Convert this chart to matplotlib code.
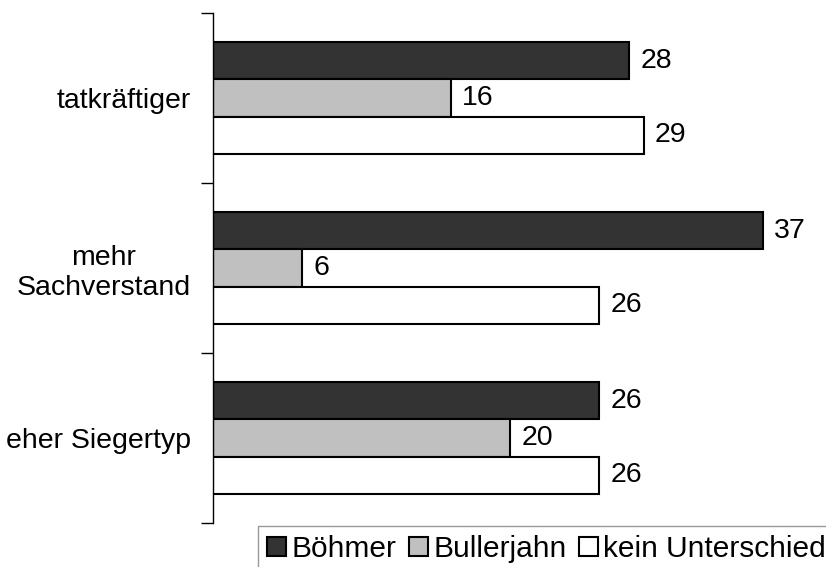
import numpy as np
import matplotlib.pyplot as plt

# data
categories = ["tatkräftiger", "mehr\nSachverstand", "eher Siegertyp"]
series_names = ["Böhmer", "Bullerjahn", "kein Unterschied"]
boehmer = [28, 37, 26]
bullerjahn = [16, 6, 20]
kein_unterschied = [29, 26, 26]

colors = ["#333333", "#c0c0c0", "#ffffff"]

plt.rcParams["font.family"] = ["Liberation Sans", "DejaVu Sans"]
fs = 20.5

fig = plt.figure(figsize=(8.26, 5.67), dpi=100)
ax = fig.add_axes([213 / 826, 1 - 523 / 567, 613 / 826, 510 / 567])

y = np.arange(len(categories))
h = 0.218
all_series = [boehmer, bullerjahn, kein_unterschied]
for i, (vals, name, col) in enumerate(zip(all_series, series_names, colors)):
    pos = y + (i - 1) * h
    ax.barh(pos, vals, height=h, color=col, edgecolor="black", linewidth=1.5, label=name)
    for p, v in zip(pos, vals):
        ax.text(v + 0.75, p, str(v), va="center", ha="left", fontsize=fs)

ax.set_xlim(0, 613 / 14.86)
ax.set_ylim(2.5, -0.5)

# group boundary ticks, labels in between
ax.set_yticks([-0.5, 0.5, 1.5, 2.5])
ax.set_yticklabels([])
ax.set_yticks(y, minor=True)
ax.set_yticklabels(categories, minor=True, fontsize=fs, multialignment="center")
ax.tick_params(axis="y", which="major", length=9, width=1, direction="out")
ax.tick_params(axis="y", which="minor", length=0, pad=16)
ax.set_xticks([])

for s in ["top", "right", "bottom"]:
    ax.spines[s].set_visible(False)
ax.spines["left"].set_linewidth(1)

leg = fig.legend(loc="upper left", bbox_to_anchor=(258 / 826, 1 - 526 / 567),
                 ncol=3, fontsize=21.5, frameon=True, fancybox=False,
                 handlelength=0.64, handleheight=0.64, handletextpad=0.17,
                 columnspacing=0.43, borderpad=0.3, borderaxespad=0)
leg.get_frame().set_edgecolor("#808080")
leg.get_frame().set_linewidth(1)

fig.savefig("out.png", dpi=100)
